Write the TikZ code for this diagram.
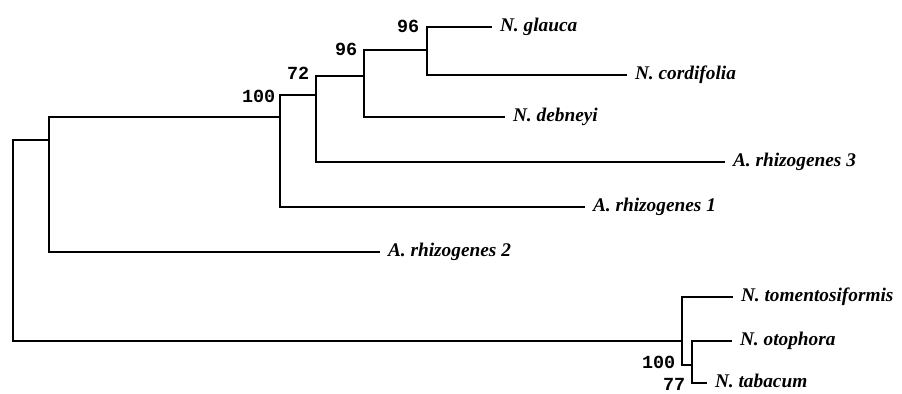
\documentclass[tikz,border=0pt]{standalone}
\usepackage{fontspec}
\setmainfont{Liberation Serif}
\setmonofont{Liberation Mono}
\tikzset{
  lf/.style={anchor=west,inner xsep=4pt,inner ysep=0pt,text height=7pt,text depth=2pt,font=\fontsize{11}{13}\selectfont\bfseries\itshape},
  bs/.style={anchor=east,inner sep=1pt,font=\fontsize{10.5}{12}\selectfont\ttfamily\bfseries},
  every picture/.style={line width=1.1pt},
}
\begin{document}
\begin{tikzpicture}[x=0.02cm,y=-0.02cm]
\useasboundingbox (0,0) rectangle (902,394);
\coordinate (root) at (13,240); \coordinate (A) at (49,140); \coordinate (B) at (280,117);
\coordinate (C) at (316,95); \coordinate (D) at (364,76); \coordinate (E) at (427,50);
\coordinate (F) at (682,341); \coordinate (G) at (692,365);
\node[lf] (gla) at (492,27){N. glauca}; \node[lf] (cor) at (627,75){N. cordifolia};
\node[lf] (deb) at (505,117){N. debneyi}; \node[lf] (rh3) at (725,162){A. rhizogenes 3};
\node[lf] (rh1) at (585,207){A. rhizogenes 1}; \node[lf] (rh2) at (380,252){A. rhizogenes 2};
\node[lf] (tom) at (733,297){N. tomentosiformis}; \node[lf] (oto) at (732,341){N. otophora};
\node[lf] (tab) at (707,383){N. tabacum};
\draw (root)|-(A); \draw (root)|-(F); \draw (A)|-(B); \draw (A)|-(rh2.west);
\draw (B)|-(C); \draw (B)|-(rh1.west); \draw (C)|-(D); \draw (C)|-(rh3.west);
\draw (D)|-(E); \draw (D)|-(deb.west); \draw (E)|-(gla.west); \draw (E)|-(cor.west);
\draw (F)|-(tom.west); \draw (F)|-(G); \draw (G)|-(oto.west); \draw (G)|-(tab.west);
\node[bs] (bB) at (278,96){100}; \node[bs] (bC) at (312,73){72};
\node[bs] (bD) at (360,49){96}; \node[bs] (bE) at (422,26){96};
\node[bs] (bF) at (678,362){100}; \node[bs] (bG) at (688,384){77};
\end{tikzpicture}
\end{document}
